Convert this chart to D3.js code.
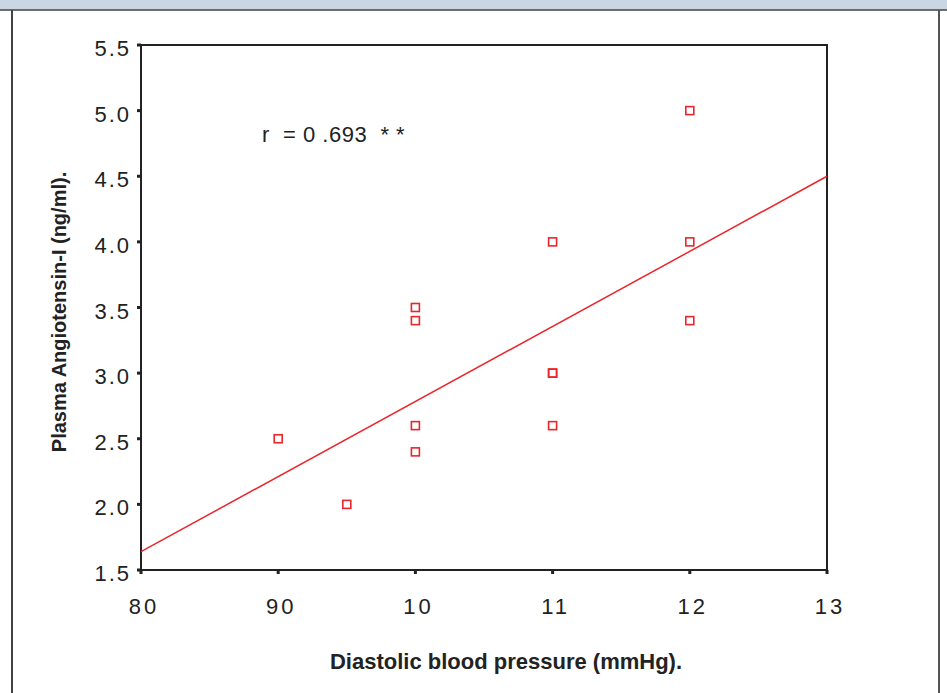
<!DOCTYPE html>
<html>
<head>
<meta charset="utf-8">
<script src="https://cdn.jsdelivr.net/npm/d3@7"></script>
<style>
  body { margin: 0; background: #fff; }
  svg { display: block; font-family: "Liberation Sans", Arial, sans-serif; }
</style>
</head>
<body>
<svg id="chart" width="947" height="693"></svg>
<script>
// diastolic pressure (mmHg) vs plasma angiotensin-I (ng/ml)
const pressure = [90, 95, 100, 100, 100, 100, 110, 110, 110, 110, 120, 120, 120];
const angiotensin = [2.5, 2.0, 3.5, 3.4, 2.6, 2.4, 4.0, 3.0, 3.0, 2.6, 5.0, 4.0, 3.4];

// fitted line at the axis ends
const fitX = [80, 130];
const fitY = [1.64, 4.5];

const xTicks = [80, 90, 100, 110, 120, 130];
const xTickLabels = ['80', '90', '10', '11', '12', '13'];
const yTicks = [1.5, 2.0, 2.5, 3.0, 3.5, 4.0, 4.5, 5.0, 5.5];

const red = '#e8262c';
const svg = d3.select('#chart');

// page frame
svg.append('rect').attr('x', 0).attr('y', 0).attr('width', 947).attr('height', 10).attr('fill', '#c9d6e4');
svg.append('line').attr('x1', 0).attr('x2', 947).attr('y1', 10).attr('y2', 10).attr('stroke', '#444').attr('stroke-width', 1.5);
svg.append('line').attr('x1', 12).attr('x2', 12).attr('y1', 10).attr('y2', 693).attr('stroke', '#444').attr('stroke-width', 2);
svg.append('line').attr('x1', 939).attr('x2', 939).attr('y1', 10).attr('y2', 693).attr('stroke', '#555').attr('stroke-width', 2);

const plotL = 141, plotR = 827, plotT = 45, plotB = 570;

const x = d3.scaleLinear().domain([80, 130]).range([plotL, plotR]);
const y = d3.scaleLinear().domain([1.5, 5.5]).range([plotB, plotT]);

// plot box
svg.append('rect')
  .attr('x', plotL).attr('y', plotT)
  .attr('width', plotR - plotL).attr('height', plotB - plotT)
  .attr('fill', 'none').attr('stroke', '#222').attr('stroke-width', 2);

// y ticks + labels
const yAxis = svg.append('g');
yAxis.selectAll('rect').data(yTicks).enter().append('rect')
  .attr('x', plotL - 4).attr('y', d => y(d) - 1.5)
  .attr('width', 4).attr('height', 3).attr('fill', '#222');
yAxis.selectAll('text').data(yTicks).enter().append('text')
  .attr('x', 131).attr('y', d => y(d) + 11)
  .attr('text-anchor', 'end')
  .attr('font-size', 22).attr('letter-spacing', 2).attr('fill', '#222')
  .text(d => d.toFixed(1));

// x ticks + labels
const xAxis = svg.append('g');
xAxis.selectAll('rect').data(xTicks).enter().append('rect')
  .attr('x', d => x(d) - 1.5).attr('y', plotB)
  .attr('width', 3).attr('height', 4).attr('fill', '#222');
xAxis.selectAll('text').data(xTicks).enter().append('text')
  .attr('x', d => x(d) + 3).attr('y', 614)
  .attr('text-anchor', 'middle')
  .attr('font-size', 22).attr('letter-spacing', 3).attr('fill', '#222')
  .text((d, i) => xTickLabels[i]);

// regression line
svg.append('line')
  .attr('x1', x(fitX[0])).attr('y1', y(fitY[0]))
  .attr('x2', x(fitX[1])).attr('y2', y(fitY[1]))
  .attr('stroke', red).attr('stroke-width', 1.5);

// points
svg.append('g').selectAll('rect').data(pressure).enter().append('rect')
  .attr('x', (d, i) => x(d) - 4)
  .attr('y', (d, i) => y(angiotensin[i]) - 4)
  .attr('width', 8).attr('height', 8)
  .attr('fill', 'none').attr('stroke', red).attr('stroke-width', 1.6);

// correlation note
svg.append('text')
  .attr('x', 262).attr('y', 142)
  .attr('font-size', 22).attr('letter-spacing', 0.5).attr('fill', '#222')
  .attr('xml:space', 'preserve')
  .text('r  = 0 .693  * *');

// axis titles
svg.append('text')
  .attr('x', 506).attr('y', 669)
  .attr('text-anchor', 'middle')
  .attr('font-size', 22).attr('font-weight', 'bold').attr('fill', '#222')
  .text('Diastolic blood pressure (mmHg).');

svg.append('text')
  .attr('transform', 'translate(66,' + 312 + ') rotate(-90)')
  .attr('text-anchor', 'middle')
  .attr('font-size', 20).attr('font-weight', 'bold').attr('fill', '#222')
  .text('Plasma Angiotensin-I (ng/ml).');
</script>
</body>
</html>
